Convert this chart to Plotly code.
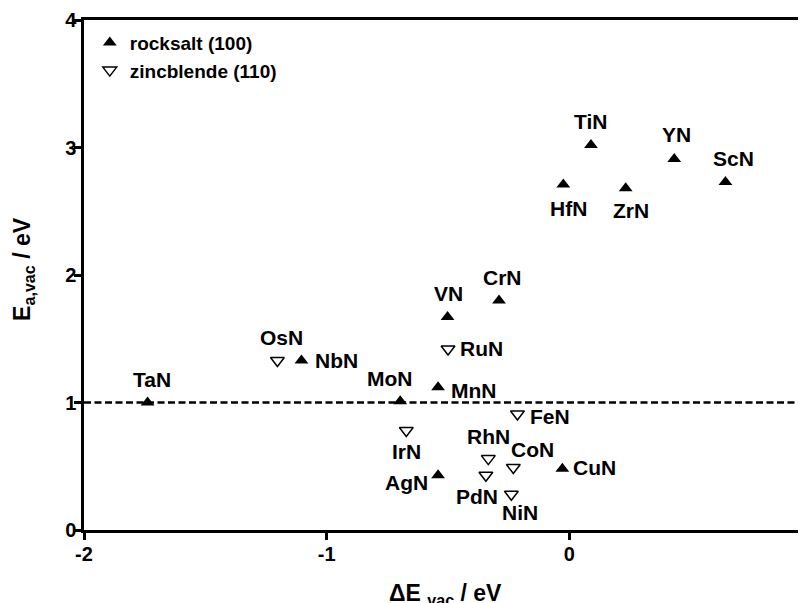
import plotly.graph_objects as go

# ---- data ----
rock_names = ["TaN", "NbN", "MoN", "MnN", "VN", "CrN", "AgN", "CuN",
              "HfN", "TiN", "ZrN", "YN", "ScN"]
rock_x = [-1.738, -1.104, -0.697, -0.541, -0.502, -0.290, -0.541, -0.029,
          -0.025, 0.089, 0.232, 0.432, 0.643]
rock_y = [1.00, 1.33, 1.01, 1.12, 1.67, 1.80, 0.43, 0.48,
          2.71, 3.02, 2.68, 2.91, 2.73]

zb_names = ["OsN", "RuN", "IrN", "FeN", "RhN", "PdN", "CoN", "NiN"]
zb_x = [-1.203, -0.500, -0.672, -0.214, -0.334, -0.344, -0.231, -0.239]
zb_y = [1.33, 1.42, 0.78, 0.91, 0.56, 0.43, 0.49, 0.28]

x_ticks = [-2, -1, 0, 1]
x_tick_labels = ["-2", "-1", "0", "1"]
y_ticks = [0, 1, 2, 3, 4]
y_tick_labels = ["0", "1", "2", "3", "4"]
threshold = 1.0

# ---- label offsets (pixels: dx right, dy up) ----
label_offsets = {
    "TaN": (4, 23), "OsN": (4, 23), "NbN": (35, 0), "MoN": (-10, 23),
    "MnN": (36, -3), "VN": (1, 24), "RuN": (33, 0), "CrN": (3, 23),
    "IrN": (0, -21), "AgN": (-32, -7), "RhN": (0, 22), "PdN": (-9, -21),
    "CoN": (19, 18), "NiN": (9, -18), "FeN": (33, -3), "CuN": (32, 1),
    "HfN": (5, -24), "TiN": (0, 23), "ZrN": (5, -22), "YN": (2, 24),
    "ScN": (8, 23),
}

FONT = "Liberation Sans, Arial, sans-serif"

fig = go.Figure()
fig.add_trace(go.Scatter(
    x=rock_x, y=rock_y, mode="markers", name="rocksalt (100)",
    marker=dict(symbol="triangle-up", size=12, color="black"),
))
fig.add_trace(go.Scatter(
    x=zb_x, y=zb_y, mode="markers", name="zincblende (110)",
    marker=dict(symbol="triangle-down-open", size=12, color="black",
                line=dict(width=1.5, color="black")),
))

for names, xs, ys in [(rock_names, rock_x, rock_y), (zb_names, zb_x, zb_y)]:
    for n, xv, yv in zip(names, xs, ys):
        dx, dy = label_offsets[n]
        fig.add_annotation(x=xv, y=yv, text=n, showarrow=False,
                           xshift=dx, yshift=dy, xanchor="center", yanchor="middle",
                           font=dict(family=FONT, size=21, color="black", weight="bold"))

TITLE_FONT = dict(family=FONT, size=23, color="black", weight="bold")
# y-axis title as a rotated annotation
fig.add_annotation(xref="paper", yref="paper", x=0, y=0.512, xshift=-60,
                   xanchor="center", yanchor="middle", textangle=-90, showarrow=False,
                   text="E<sub>a,vac</sub> / eV", font=TITLE_FONT)
# x-axis title as an annotation (partly cut at the bottom edge, as in the original)
fig.add_annotation(xref="paper", yref="paper", x=0.5, y=0, yshift=-64,
                   xanchor="center", yanchor="middle", showarrow=False,
                   text="ΔE <sub>vac</sub> / eV", font=TITLE_FONT)

fig.add_shape(type="line", xref="paper", x0=0, x1=1, yref="y", y0=threshold, y1=threshold,
              line=dict(color="black", width=2.5, dash="7px,3.5px"), layer="below")

# page body has an 8px margin: figure is sized to fill the rest of the 806x603 window
fig.update_layout(
    width=798, height=595,
    margin=dict(l=76, r=0, t=12, b=73),
    paper_bgcolor="white", plot_bgcolor="white",
    showlegend=True,
    legend=dict(x=0.008, y=0.993, xanchor="left", yanchor="top",
                font=dict(family=FONT, size=19, color="black", weight="bold"),
                bgcolor="rgba(0,0,0,0)"),
    xaxis=dict(range=[-2, 0.975], tickvals=x_ticks, ticktext=x_tick_labels,
               showgrid=False, zeroline=False, automargin=False,
               showline=True, linecolor="black", linewidth=2.5, mirror=True,
               ticks="outside", ticklen=7, tickwidth=2.5, tickcolor="black",
               ticklabelstandoff=-3,
               tickfont=dict(family=FONT, size=20, color="black", weight="bold")),
    yaxis=dict(range=[0, 4], tickvals=y_ticks, ticktext=y_tick_labels,
               showgrid=False, zeroline=False, automargin=False,
               showline=True, linecolor="black", linewidth=2.5,
               ticks="outside", ticklen=7, tickwidth=2.5, tickcolor="black",
               ticklabelstandoff=-6,
               tickfont=dict(family=FONT, size=20, color="black", weight="bold")),
)

fig.write_html("out.html")
